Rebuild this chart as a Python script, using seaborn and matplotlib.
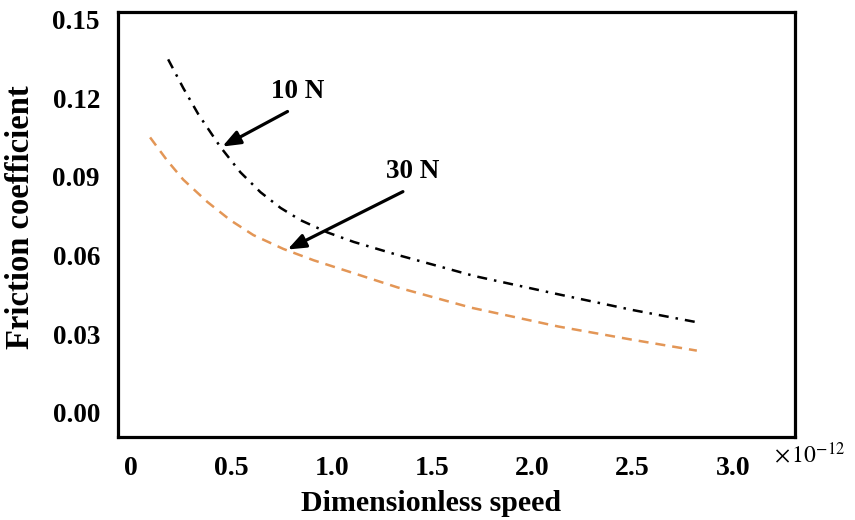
import matplotlib
matplotlib.use("Agg")
import matplotlib.pyplot as plt
import seaborn as sns
import pandas as pd

# Friction coefficient vs dimensionless speed (x in units of 1e-12)
speed_10n = [0.185, 0.26, 0.335, 0.445, 0.545, 0.645, 0.745, 0.845, 0.98,
             1.11, 1.33, 1.71, 2.13, 2.50, 2.83]
friction_10n = [0.1349, 0.1240, 0.1140, 0.1015, 0.0918, 0.0842, 0.0782, 0.0735,
                0.0688, 0.0652, 0.0602, 0.0522, 0.0452, 0.0392, 0.0344]

speed_30n = [0.095, 0.18, 0.26, 0.38, 0.495, 0.61, 0.76, 0.91, 1.08,
             1.33, 1.695, 2.13, 2.495, 2.82]
friction_30n = [0.1051, 0.0963, 0.0890, 0.0805, 0.0735, 0.0678, 0.0625, 0.0582,
                0.0540, 0.0478, 0.0401, 0.0329, 0.0279, 0.0237]

load_labels = ["10 N", "30 N"]
x_ticks = [0, 0.5, 1.0, 1.5, 2.0, 2.5, 3.0]
x_tick_labels = ["0", "0.5", "1.0", "1.5", "2.0", "2.5", "3.0"]
y_ticks = [0.00, 0.03, 0.06, 0.09, 0.12, 0.15]
y_tick_labels = ["0.00", "0.03", "0.06", "0.09", "0.12", "0.15"]

df = pd.concat([
    pd.DataFrame({"speed": speed_10n, "friction": friction_10n, "load": load_labels[0]}),
    pd.DataFrame({"speed": speed_30n, "friction": friction_30n, "load": load_labels[1]}),
])

sns.set_theme(style="white")
plt.rcParams["font.family"] = ["Liberation Serif", "DejaVu Serif"]
plt.rcParams["mathtext.fontset"] = "stix"
for key in ["text.color", "axes.labelcolor", "xtick.color", "ytick.color"]:
    plt.rcParams[key] = "black"

fig = plt.figure(figsize=(8.55, 5.2), dpi=100)
ax = fig.add_axes([0.138, 0.160, 0.792, 0.817])

sns.lineplot(
    data=df, x="speed", y="friction", hue="load", style="load",
    palette={"10 N": "black", "30 N": "#E39656"},
    dashes={"10 N": (4.0, 2.8, 1.0, 2.8), "30 N": (4.0, 2.8)},
    linewidth=1.8, legend=False, ax=ax, estimator=None, sort=True,
)

ax.set_xlim(-0.065, 3.31)
ax.set_ylim(-0.0092, 0.153)
ax.set_xticks(x_ticks)
ax.set_xticklabels(x_tick_labels)
ax.set_yticks(y_ticks)
ax.set_yticklabels(y_tick_labels)
ax.tick_params(axis="both", length=0)
ax.tick_params(axis="y", pad=13, labelsize=19.5)
ax.tick_params(axis="x", pad=14, labelsize=20)
for lab in ax.get_xticklabels() + ax.get_yticklabels():
    lab.set_fontweight("bold")

for sp in ax.spines.values():
    sp.set_visible(True)
    sp.set_color("black")
    sp.set_linewidth(2.3)

ax.set_xlabel("Dimensionless speed", fontsize=21.5, fontweight="bold")
ax.set_ylabel("Friction coefficient", fontsize=23.5, fontweight="bold")
ax.xaxis.set_label_coords(0.462, -0.125)
ax.yaxis.set_label_coords(-0.121, 0.518)

arrow = dict(arrowstyle="-|>,head_length=0.9,head_width=0.35", color="black", lw=2.3,
             shrinkA=0, shrinkB=0)
ax.annotate("", xy=(0.455, 0.1016), xytext=(0.78, 0.1150), arrowprops=arrow)
ax.annotate("", xy=(0.78, 0.0623), xytext=(1.355, 0.0844), arrowprops=arrow)
ax.text(0.83, 0.1225, load_labels[0], fontsize=19.5, fontweight="bold", ha="center", va="center")
ax.text(1.405, 0.0921, load_labels[1], fontsize=19.5, fontweight="bold", ha="center", va="center")

fig.text(0.905, 0.125, r"$\times\,10^{-12}$", fontsize=17, ha="left", va="center")

fig.savefig("out.png", dpi=100, facecolor="white")
